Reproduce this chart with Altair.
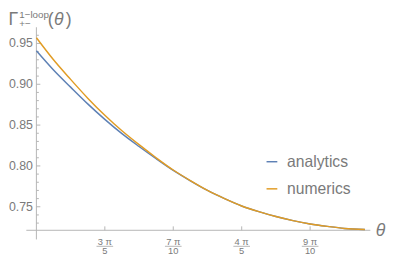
import altair as alt
import pandas as pd

# ---- data (theta in units of pi) ----
theta = [0.50, 0.525, 0.55, 0.575, 0.60, 0.625, 0.65, 0.675, 0.70, 0.725,
         0.75, 0.775, 0.80, 0.825, 0.85, 0.875, 0.90, 0.925, 0.95, 0.98]
numerics = [0.957, 0.930, 0.906, 0.883, 0.862, 0.843, 0.826, 0.810, 0.795, 0.782,
            0.770, 0.760, 0.751, 0.744, 0.738, 0.733, 0.729, 0.726, 0.7235, 0.7222]
analytics = [0.941, 0.9175, 0.8965, 0.876, 0.857, 0.8395, 0.8238, 0.8088, 0.7945, 0.7818,
             0.770, 0.760, 0.751, 0.744, 0.738, 0.733, 0.729, 0.726, 0.7235, 0.7222]

y_major = [0.75, 0.80, 0.85, 0.90, 0.95]
y_major_labels = ["0.75", "0.80", "0.85", "0.90", "0.95"]
y_minor = [0.73, 0.74, 0.76, 0.77, 0.78, 0.79, 0.81, 0.82, 0.83, 0.84,
           0.86, 0.87, 0.88, 0.89, 0.91, 0.92, 0.93, 0.94, 0.96]
x_major = [0.6, 0.7, 0.8, 0.9]
x_num = ["3 π", "7 π", "4 π", "9 π"]
x_den = ["5", "10", "5", "10"]

series_names = ["analytics", "numerics"]
series_colors = ["#5E81B5", "#E19C24"]

W, H = 387, 252          # drawing area (page minus its 8px margin)
M = 8                    # page margin: screen px -> chart px


def P(v):
    return v - M


# scales: theta/pi and value, chosen so the axes sit where the reference has them
X_DOMAIN = [0.4585, 1.01235]
Y_DOMAIN = [0.688, 0.9902]
X_ORIGIN = 0.5
Y_ORIGIN = 0.7212
X_AXIS_SPAN = [0.4853, 0.9880]
Y_AXIS_SPAN = [0.710, 0.9698]
XPX = (X_DOMAIN[1] - X_DOMAIN[0]) / W
YPX = (Y_DOMAIN[1] - Y_DOMAIN[0]) / H

FONT = "Liberation Sans"
LABEL = "#7a7a7a"
AXIS = "#b4b4b4"

xs = alt.Scale(domain=X_DOMAIN, nice=False, zero=False)
ys = alt.Scale(domain=Y_DOMAIN, nice=False, zero=False)

df_a = pd.DataFrame({"t": theta, "v": analytics})
df_n = pd.DataFrame({"t": theta, "v": numerics})


def line(df, color):
    return alt.Chart(df).mark_line(color=color, strokeWidth=1.5, interpolate="monotone").encode(
        x=alt.X("t:Q", scale=xs, axis=None),
        y=alt.Y("v:Q", scale=ys, axis=None),
    )


# axis lines
x_axis = alt.Chart(pd.DataFrame({"a": [X_AXIS_SPAN[0]], "b": [X_AXIS_SPAN[1]], "y": [Y_ORIGIN]})).mark_rule(
    color=AXIS, strokeWidth=1).encode(
    x=alt.X("a:Q", scale=xs, axis=None), x2="b:Q", y=alt.Y("y:Q", scale=ys, axis=None))
y_axis = alt.Chart(pd.DataFrame({"x": [X_ORIGIN], "a": [Y_AXIS_SPAN[0]], "b": [Y_AXIS_SPAN[1]]})).mark_rule(
    color=AXIS, strokeWidth=1).encode(
    x=alt.X("x:Q", scale=xs, axis=None), y=alt.Y("a:Q", scale=ys, axis=None), y2="b:Q")

# y ticks
ymaj_df = pd.DataFrame({"y": y_major, "lab": y_major_labels})
ymaj_df["x"] = X_ORIGIN
ymaj_df["x2"] = X_ORIGIN + 4 * XPX
ymin_df = pd.DataFrame({"y": y_minor})
ymin_df["x"] = X_ORIGIN
ymin_df["x2"] = X_ORIGIN + 2.5 * XPX

y_ticks = alt.Chart(ymaj_df).mark_rule(color=AXIS, strokeWidth=1).encode(
    x=alt.X("x:Q", scale=xs, axis=None), x2="x2:Q", y=alt.Y("y:Q", scale=ys, axis=None))
y_mticks = alt.Chart(ymin_df).mark_rule(color=AXIS, strokeWidth=1).encode(
    x=alt.X("x:Q", scale=xs, axis=None), x2="x2:Q", y=alt.Y("y:Q", scale=ys, axis=None))
y_labels = alt.Chart(ymaj_df).mark_text(
    align="right", baseline="middle", dx=-3.5, font=FONT, fontSize=12.6, color=LABEL).encode(
    x=alt.X("x:Q", scale=xs, axis=None), y=alt.Y("y:Q", scale=ys, axis=None), text="lab:N")

# x ticks with stacked-fraction labels
xt_df = pd.DataFrame({"x": x_major, "num": x_num, "den": x_den})
xt_df["y"] = Y_ORIGIN
xt_df["y2"] = Y_ORIGIN + 4 * YPX
x_ticks = alt.Chart(xt_df).mark_rule(color=AXIS, strokeWidth=1).encode(
    x=alt.X("x:Q", scale=xs, axis=None), y=alt.Y("y:Q", scale=ys, axis=None), y2="y2:Q")
x_num_t = alt.Chart(xt_df).mark_text(
    align="center", baseline="alphabetic", font=FONT, fontSize=9.5, color=LABEL).encode(
    x=alt.X("x:Q", scale=xs, axis=None), y=alt.value(P(247.3)), text="num:N")
x_bar = alt.Chart(xt_df).mark_tick(orient="horizontal", size=17, thickness=0.8, color=LABEL).encode(
    x=alt.X("x:Q", scale=xs, axis=None), y=alt.value(P(248.6)))
x_den_t = alt.Chart(xt_df).mark_text(
    align="center", baseline="alphabetic", font=FONT, fontSize=9.5, color=LABEL).encode(
    x=alt.X("x:Q", scale=xs, axis=None), y=alt.value(P(257)), text="den:N")

# legend (manual, Mathematica style)
legend_rows = [162.3, 190.0]
legend_layers = []
for name, color, row in zip(series_names, series_colors, legend_rows):
    ldf = pd.DataFrame({"name": [name]})
    legend_layers.append(alt.Chart(ldf).mark_rule(strokeWidth=1.5, color=color).encode(
        x=alt.value(P(272)), x2=alt.value(P(283)), y=alt.value(P(row))))
    legend_layers.append(alt.Chart(ldf).mark_text(
        align="left", baseline="middle", font=FONT, fontSize=16, color=LABEL).encode(
        x=alt.value(P(293)), y=alt.value(P(row)), text="name:N"))

# axis titles
title_df = pd.DataFrame({"k": [0]})


def label(txt, x, y, size, style="normal", align="left", baseline="alphabetic"):
    return alt.Chart(title_df).mark_text(
        text=txt, align=align, baseline=baseline, font=FONT, fontSize=size,
        fontStyle=style, color=LABEL).encode(x=alt.value(P(x)), y=alt.value(P(y)))


titles = [
    label("Γ", 8.5, 23.0, 18),
    label("1\u2212loop", 19.5, 15.5, 10),
    label("+\u2212", 19.5, 25.0, 10),
    label("(", 48.5, 23.0, 18),
    label("θ", 55, 23.0, 18, style="italic"),
    label(")", 67, 23.0, 18),
    label("θ", 388.5, 233.5, 18, style="italic", align="center", baseline="middle"),
]

chart = alt.layer(
    x_axis, y_axis, y_ticks, y_mticks, y_labels, x_ticks, x_num_t, x_bar, x_den_t,
    line(df_a, series_colors[0]), line(df_n, series_colors[1]),
    *legend_layers, *titles,
).properties(
    width=W, height=H,
    padding=0,
    autosize="none",
).configure_view(stroke=None)

chart.save("out.html", embed_options={"renderer": "svg", "actions": False})
